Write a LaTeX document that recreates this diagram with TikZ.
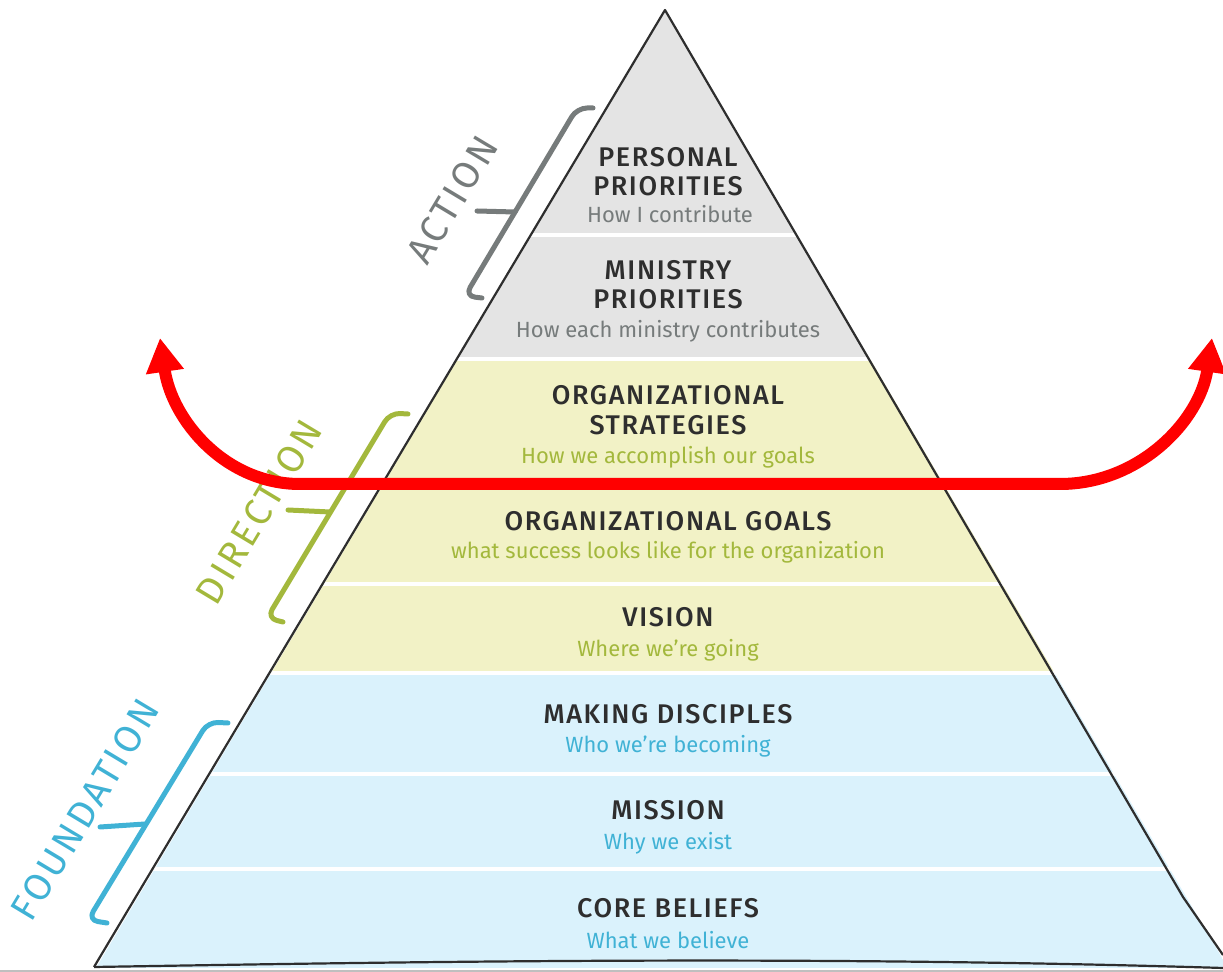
\documentclass[tikz,border=0pt]{standalone}
\usepackage{fontspec}
\setmainfont{Fira Sans}
\newfontfamily\capsfont[LetterSpace=6]{Fira Sans Medium}
\newfontfamily\groupfont[LetterSpace=8]{Fira Sans}
\usetikzlibrary{arrows.meta}

\definecolor{actionFill}{HTML}{E4E4E4}
\definecolor{actionInk}{HTML}{767B7B}
\definecolor{directionFill}{HTML}{F2F2C6}
\definecolor{directionInk}{HTML}{A3B83C}
\definecolor{foundationFill}{HTML}{DAF2FC}
\definecolor{foundationInk}{HTML}{40B2D5}
\definecolor{titleInk}{HTML}{2E2E2E}

\begin{document}
\begin{tikzpicture}[x=0.5pt,y=-0.5pt,
    layerTitle/.style={font=\capsfont\fontsize{13.5}{14}\selectfont,text=titleInk,inner sep=0pt},
    layerNote/.style={font=\fontsize{11}{12}\selectfont,inner sep=0pt},
    bracket/.style={line width=2.5pt,line cap=round,line join=round,rounded corners=5pt},
    groupName/.style={font=\groupfont\fontsize{19}{20}\selectfont,inner sep=0pt,rotate=59},
    gap/.style={white,line width=2pt}
    ]

  \useasboundingbox (0,0) rectangle (1223,972);

  % bands
  \begin{scope}
    \clip (665,10) -- (96,968) -- (1228,968) -- cycle;
    \fill[actionFill] (0,0) rectangle (1223,359);
    \fill[directionFill] (0,359) rectangle (1223,673);
    \fill[foundationFill] (0,673) rectangle (1223,972);
    \foreach \y in {235,359,482,584,673,774,869}
      \draw[gap] (0,\y) -- (1223,\y);
  \end{scope}

  % outline
  \draw[titleInk,line width=1.1pt,line join=round]
    (94,967) -- (665,10) -- (1183,897) -- (1223,955);
  \draw[titleInk,line width=1.1pt] (94,967) .. controls (400,962) and (800,955) .. (1223,968);
  \draw[black!25,line width=1pt] (0,971) -- (1223,971);

  % layer texts
  \node(personal) [layerTitle] at (668,157) {PERSONAL};
  \node(personalB) [layerTitle] at (668,186) {PRIORITIES};
  \node(personalNote) [layerNote,text=actionInk] at (670,214) {How I contribute};

  \node(ministry) [layerTitle] at (668,270) {MINISTRY};
  \node(ministryB) [layerTitle] at (668,299) {PRIORITIES};
  \node(ministryNote) [layerNote,text=actionInk] at (668,331) {How each ministry contributes};

  \node(strategies) [layerTitle] at (668,395) {ORGANIZATIONAL};
  \node(strategiesB) [layerTitle] at (668,425) {STRATEGIES};
  \node(strategiesNote) [layerNote,text=directionInk] at (668,457) {How we accomplish our goals};

  \node(goals) [layerTitle] at (668,521) {ORGANIZATIONAL GOALS};
  \node(goalsNote) [layerNote,text=directionInk] at (668,552) {what success looks like for the organization};

  \node(vision) [layerTitle] at (668,617) {VISION};
  \node(visionNote) [layerNote,text=directionInk] at (668,650) {Where we're going};

  \node(disciples) [layerTitle] at (668,714) {MAKING DISCIPLES};
  \node(disciplesNote) [layerNote,text=foundationInk] at (668,746) {Who we're becoming};

  \node(mission) [layerTitle] at (668,810) {MISSION};
  \node(missionNote) [layerNote,text=foundationInk] at (668,843) {Why we exist};

  \node(beliefs) [layerTitle] at (668,908) {CORE BELIEFS};
  \node(beliefsNote) [layerNote,text=foundationInk] at (668,940) {What we believe};

  % brackets and group names
  \draw[bracket,actionInk] (593,108) -- (577,108) -- (465,296) -- (482,298);
  \draw[bracket,actionInk] (477,211) -- (515,212);
  \node(action) [groupName,text=actionInk] at (452,200) {ACTION};

  \draw[bracket,directionInk] (408,414) -- (390,413) -- (267,618) -- (283,622);
  \draw[bracket,directionInk] (288,510) -- (330,512);
  \node(direction) [groupName,text=directionInk] at (259,512) {DIRECTION};

  \draw[bracket,foundationInk] (228,723) -- (208,722) -- (88,920) -- (107,923);
  \draw[bracket,foundationInk] (100,827) -- (145,824);
  \node(foundation) [groupName,text=foundationInk] at (85,810) {FOUNDATION};

  % red arrow
  \coordinate(leftTip) at (160,338);
  \coordinate(leftBend) at (300,484);
  \coordinate(rightBend) at (1060,484);
  \coordinate(rightTip) at (1212,338);
  \draw[red,line width=6pt,{Triangle[width=18pt,length=17pt]}-{Triangle[width=18pt,length=17pt]}]
    (leftTip) .. controls (172,420) and (225,484) .. (leftBend) -- (rightBend)
    .. controls (1140,484) and (1200,420) .. (rightTip);

\end{tikzpicture}
\end{document}
